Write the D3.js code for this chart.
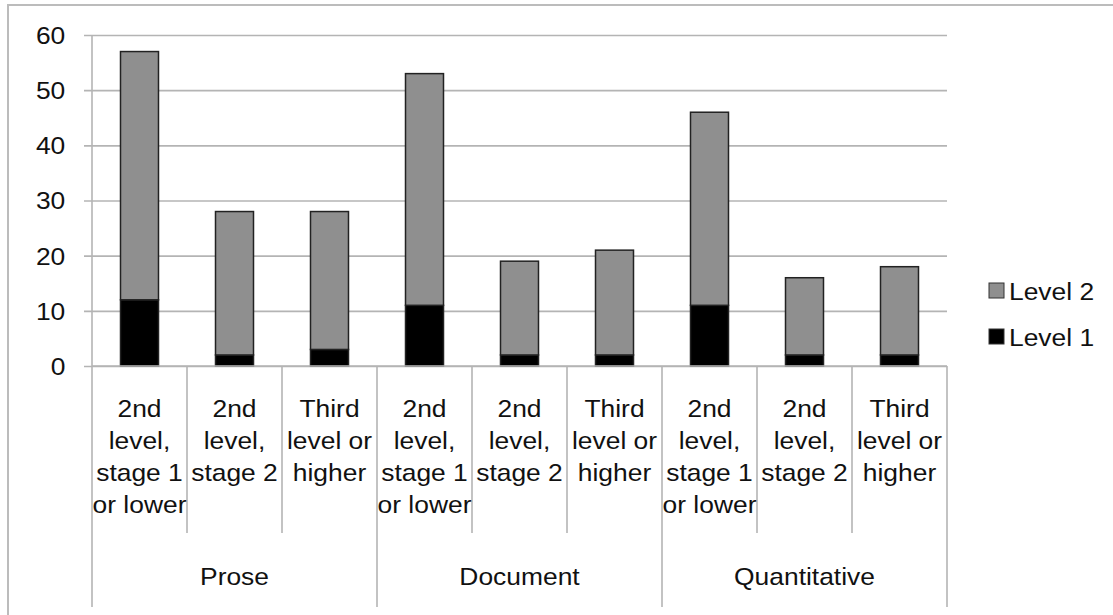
<!DOCTYPE html>
<html>
<head>
<meta charset="utf-8">
<script src="https://cdn.jsdelivr.net/npm/d3@7"></script>
<style>
  body { margin: 0; background: #fff; }
  text { font-family: "Liberation Sans", Arial, sans-serif; fill: #111; }
</style>
</head>
<body>
<div id="chart"></div>
<script>
// data
const groups = ["Prose", "Document", "Quantitative"];
const subLabels = [
    "2nd|level,|stage 1|or lower",
    "2nd|level,|stage 2",
    "Third|level or|higher"
];
const level1 = [12, 2, 3, 11, 2, 2, 11, 2, 2];
const level2 = [45, 26, 25, 42, 17, 19, 35, 14, 16];
const yTicks = [0, 10, 20, 30, 40, 50, 60];
const seriesNames = ["Level 2", "Level 1"];
const seriesColors = ["#8f8f8f", "#000000"];

const W = 1113, H = 615;
const margin = {top: 35, left: 92, right: 166, bottom: 249};
const width = W - margin.left - margin.right;
const height = H - margin.top - margin.bottom;
const stretch = "scale(1.1,1)";   // the original text is a bit wide

const svg = d3.select("#chart").append("svg")
    .attr("width", W)
    .attr("height", H);

// outer frame
svg.append("rect")
    .attr("x", 8).attr("y", 5)
    .attr("width", W).attr("height", H)
    .attr("fill", "none")
    .attr("stroke", "#bcbcbc")
    .attr("stroke-width", 2);

const g = svg.append("g")
    .attr("transform", `translate(${margin.left},${margin.top})`);

// build rows for stacking
const keys = [];
const rows = [];
groups.forEach((grp, gi) => {
    subLabels.forEach((lab, si) => {
        const i = gi * subLabels.length + si;
        keys.push(i);
        rows.push({key: i, label: lab, group: grp, l1: level1[i], l2: level2[i]});
    });
});

const x = d3.scaleBand()
    .domain(keys)
    .range([0, width])
    .paddingInner(0.6)
    .paddingOuter(0.3);

const y = d3.scaleLinear()
    .domain([0, 60])
    .range([height, 0]);

// gridlines
const yAxis = d3.axisLeft(y)
    .tickValues(yTicks)
    .tickSize(-width - 8)
    .tickPadding(14);

const yAxisGroup = g.append("g")
    .attr("transform", "translate(-8,0)")
    .call(yAxis);
yAxisGroup.select(".domain").remove();
yAxisGroup.selectAll(".tick line")
    .attr("stroke", "#b4b4b4")
    .attr("stroke-width", 1.6)
    .attr("x1", 0);
yAxisGroup.selectAll("text")
    .style("font-size", "24px")
    .attr("x", -17)
    .attr("dy", "0.35em")
    .attr("transform", stretch);

// y axis line
g.append("line")
    .attr("x1", 0).attr("x2", 0)
    .attr("y1", 0).attr("y2", height)
    .attr("stroke", "#b4b4b4")
    .attr("stroke-width", 1.6);

// stacked bars
const stack = d3.stack().keys(["l1", "l2"]);
const series = stack(rows);
const fills = {l1: seriesColors[1], l2: seriesColors[0]};

g.selectAll(".layer")
    .data(series)
    .enter().append("g")
    .attr("class", "layer")
    .attr("fill", d => fills[d.key])
    .selectAll("rect")
    .data(d => d)
    .enter().append("rect")
    .attr("x", d => x(d.data.key))
    .attr("y", d => y(d[1]))
    .attr("height", d => y(d[0]) - y(d[1]))
    .attr("width", x.bandwidth())
    .attr("stroke", "#222")
    .attr("stroke-width", 1.5);

// category axis: separators and labels
const step = x.step();
const catTop = height;
const subBottom = 533 - margin.top;
const grpBottom = 607 - margin.top;

const sepIdx = d3.range(keys.length + 1);
g.selectAll(".sep")
    .data(sepIdx)
    .enter().append("line")
    .attr("class", "sep")
    .attr("x1", i => i * step)
    .attr("x2", i => i * step)
    .attr("y1", catTop)
    .attr("y2", i => i % subLabels.length === 0 ? grpBottom : subBottom)
    .attr("stroke", "#b4b4b4")
    .attr("stroke-width", 1.6);

// baseline
g.append("line")
    .attr("x1", 0).attr("x2", width)
    .attr("y1", height).attr("y2", height)
    .attr("stroke", "#b4b4b4")
    .attr("stroke-width", 1.6);

const subText = g.selectAll(".sub")
    .data(rows)
    .enter().append("text")
    .attr("class", "sub")
    .attr("text-anchor", "middle")
    .style("font-size", "24px")
    .attr("transform", d => `translate(${x(d.key) + x.bandwidth() / 2},${409 - margin.top}) ${stretch}`);

subText.selectAll("tspan")
    .data(d => d.label.split("|"))
    .enter().append("tspan")
    .attr("x", 0)
    .attr("y", (d, i) => i * 32)
    .attr("dy", "0.35em")
    .text(d => d);

g.selectAll(".grp")
    .data(groups)
    .enter().append("text")
    .attr("class", "grp")
    .attr("text-anchor", "middle")
    .style("font-size", "24px")
    .attr("transform", (d, i) => `translate(${(i + 0.5) * step * subLabels.length},${577 - margin.top}) ${stretch}`)
    .attr("dy", "0.35em")
    .text(d => d);

// legend
const legend = svg.append("g")
    .attr("transform", "translate(989,283)");

const legItem = legend.selectAll(".leg")
    .data(seriesNames)
    .enter().append("g")
    .attr("class", "leg")
    .attr("transform", (d, i) => `translate(0,${i * 46})`);

legItem.append("rect")
    .attr("width", 15).attr("height", 15)
    .attr("fill", (d, i) => seriesColors[i])
    .attr("stroke", "#333")
    .attr("stroke-width", 1);

legItem.append("text")
    .attr("transform", `translate(20,9) ${stretch}`)
    .attr("dy", "0.35em")
    .style("font-size", "24px")
    .text(d => d);
</script>
</body>
</html>
